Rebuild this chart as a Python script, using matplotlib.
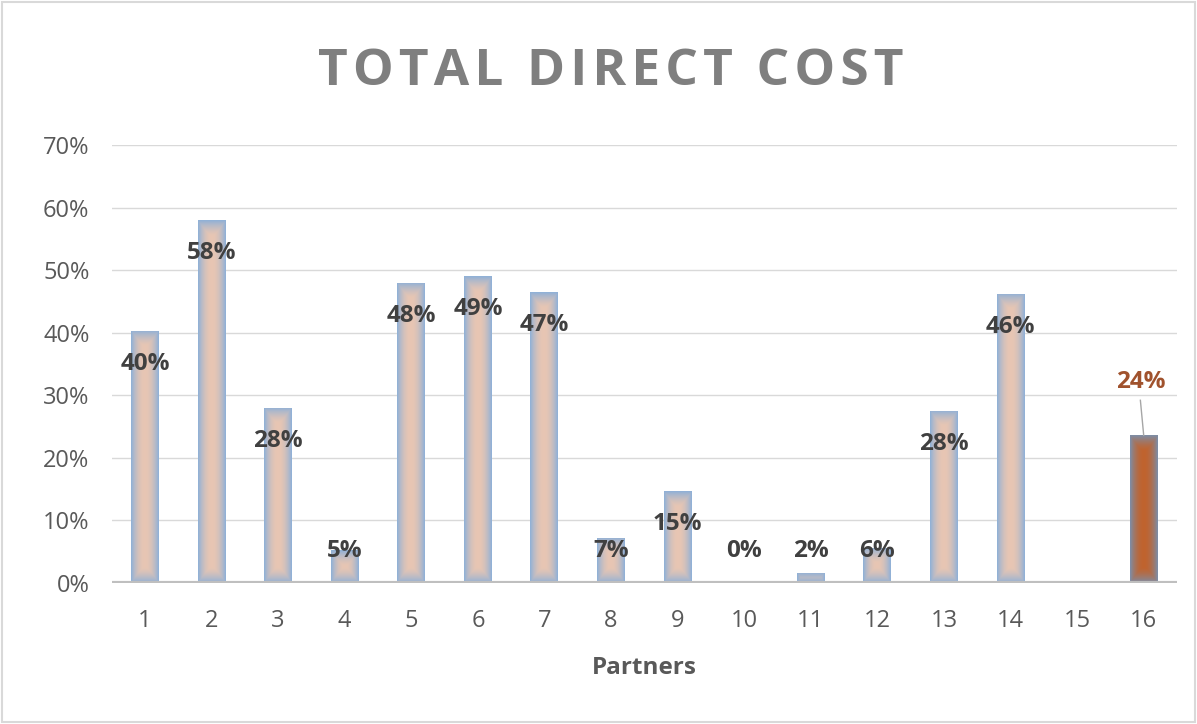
import numpy as np
import matplotlib
matplotlib.use("Agg")
import matplotlib.pyplot as plt
from matplotlib.colors import to_rgb
from matplotlib.patches import Rectangle

partners = [str(i) for i in range(1, 17)]
values = [40.3, 58.0, 28.0, 5.2, 48.0, 49.0, 46.5, 7.2, 14.7, 0.0, 1.6, 5.6, 27.5, 46.2, None, 23.6]
labels = ["40%", "58%", "28%", "5%", "48%", "49%", "47%", "7%", "15%", "0%", "2%", "6%", "28%", "46%", "", "24%"]
yticks = [0, 10, 20, 30, 40, 50, 60, 70]
highlight = 15  # index of partner 16
title = "TOTAL DIRECT COST"

fig = plt.figure(figsize=(11.97, 7.24), dpi=100)
W, H = 1197, 724
ax = fig.add_axes([111.7 / W, 1 - 583 / H, (1177 - 111.7) / W, (583 - 145) / H])
ax.set_xlim(-0.5, 15.5)
ax.set_ylim(0, 70)

# outer border
fig.patches.append(Rectangle((2 / W, 2 / H), 1 - 4 / W, 1 - 4 / H, transform=fig.transFigure,
                             fill=False, edgecolor="#d9d9d9", linewidth=1.5))

for t in yticks[1:]:
    ax.axhline(t, color="#d9d9d9", linewidth=1, zorder=0)
ax.axhline(0, color="#bfbfbf", linewidth=3, zorder=5)

x = np.arange(len(partners))
vals = [v if v is not None else 0 for v in values]
bars = ax.bar(x, vals, width=0.42, color="none", edgecolor="none", zorder=2)

px_per_unit_y = (583 - 145) / 70.0
for i, (b, v) in enumerate(zip(bars, vals)):
    if v <= 0:
        continue
    h_px = v * px_per_unit_y
    ny = max(int(h_px), 2)
    nx = 28
    u = np.abs(np.linspace(-1, 1, nx))[None, :]
    d = np.linspace(0, h_px, ny)[:, None]
    dtop = h_px - d
    vprox = np.clip(1 - np.minimum(d, dtop) / 16.0, 0, 1)
    t = np.clip(np.maximum(u ** 2.0, vprox ** 1.5), 0, 1)
    if i == highlight:
        c_center, c_edge = np.array(to_rgb("#c0632e")), np.array(to_rgb("#7f8ca3"))
    else:
        c_center, c_edge = np.array(to_rgb("#e8c6b3")), np.array(to_rgb("#92b1d6"))
    img = c_center[None, None, :] * (1 - t[..., None]) + c_edge[None, None, :] * t[..., None]
    x0 = b.get_x()
    im = ax.imshow(img, extent=(x0, x0 + b.get_width(), 0, v), origin="lower",
                   aspect="auto", zorder=3, interpolation="bilinear")
    im.set_clip_path(b)

ax.set_xlim(-0.5, 15.5)
ax.set_ylim(0, 70)

# labels
off = 33 / px_per_unit_y
minpos = (583 - 551) / px_per_unit_y
for i, (v, lab) in enumerate(zip(vals, labels)):
    if not lab:
        continue
    if i == highlight:
        ax.text(i - 0.05, v + 8.6, lab, ha="center", va="center", fontsize=17.5, fontweight="bold",
                color="#a0522d", family="Open Sans", zorder=6)
        ax.plot([i - 0.05, i], [v + 5.6, v], color="#a6a6a6", linewidth=1, zorder=6)
    else:
        y = max(v - off, minpos)
        ax.text(i, y, lab, ha="center", va="center", fontsize=17.5, fontweight="bold",
                color="#404040", family="Open Sans", zorder=6)

ax.set_xticks(x)
ax.set_xticklabels(partners, fontsize=17, color="#595959", family="Open Sans")
ax.set_yticks(yticks)
ax.set_yticklabels([f"{t}%" for t in yticks], fontsize=17, color="#595959", family="Open Sans")
ax.tick_params(axis="x", length=0, pad=19)
ax.tick_params(axis="y", length=0, pad=16)
for s in ax.spines.values():
    s.set_visible(False)

ax.set_xlabel("Partners", fontsize=17.5, fontweight="bold", color="#595959", family="Open Sans", labelpad=16)

fig.text(611 / W, 1 - 72 / H, "\u200a".join(title),
         ha="center", va="center", fontsize=37, fontweight="bold", color="#7f7f7f",
         family="Open Sans")

fig.savefig("out.png", dpi=100)
